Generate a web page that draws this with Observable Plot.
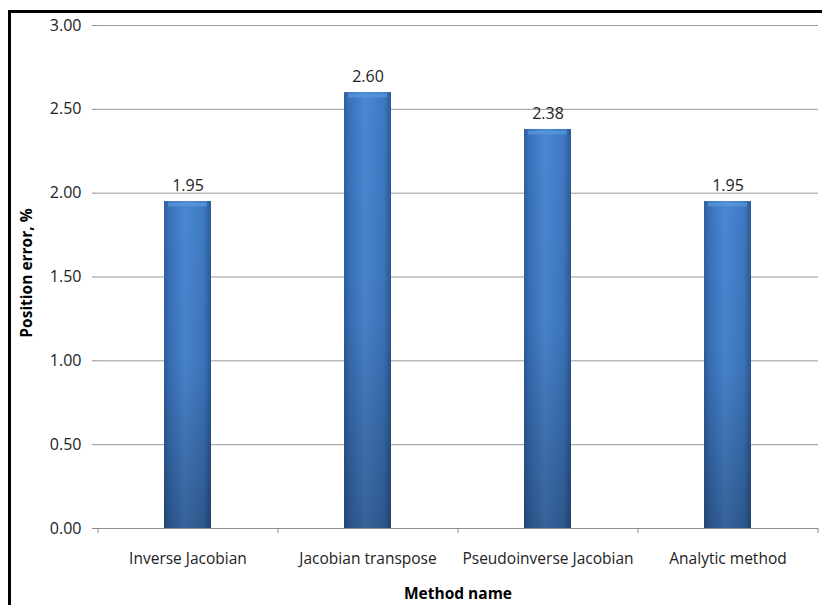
<!DOCTYPE html>
<html>
<head>
<meta charset="utf-8">
<script src="https://cdn.jsdelivr.net/npm/d3@7"></script>
<script src="https://cdn.jsdelivr.net/npm/@observablehq/plot@0.6"></script>
<style>
  html, body { margin: 0; padding: 0; background: #fff; }
  #wrap { position: relative; width: 822px; height: 605px; overflow: hidden; }
  #frame { position: absolute; left: 8px; top: 10px; width: 830px; height: 620px;
           border-left: 3px solid #000; border-top: 3px solid #000; pointer-events: none; }
</style>
</head>
<body>
<div id="wrap"><div id="frame"></div></div>
<script>
const methods = ["Inverse Jacobian", "Jacobian transpose", "Pseudoinverse Jacobian", "Analytic method"];
const errors = [1.95, 2.60, 2.38, 1.95];
const yTicks = [0, 0.5, 1.0, 1.5, 2.0, 2.5, 3.0];

const data = methods.map((m, i) => ({method: m, value: errors[i]}));
const font = "'Open Sans', Lato, sans-serif";

const chart = Plot.plot({
  width: 822,
  height: 605,
  marginLeft: 97,
  marginRight: 4,
  marginTop: 25,
  marginBottom: 77,
  style: {fontFamily: font, fontSize: "15.5px", color: "#222", background: "transparent"},
  x: {domain: methods, paddingInner: 0.74, paddingOuter: 0.37, label: null},
  y: {domain: [0, 3], label: null},
  marks: [
    Plot.gridY(yTicks, {stroke: "#9a9a9a", strokeOpacity: 1, strokeWidth: 1}),
    Plot.barY(data, {x: "method", y: "value", fill: "url(#barH)"}),
    Plot.barY(data, {x: "method", y: "value", fill: "url(#barV)"}),
    Plot.tickY(data, {x: "method", y: "value", dy: 3, stroke: "#5a98de", strokeOpacity: 0.7, strokeWidth: 4, insetLeft: 4, insetRight: 4}),
    Plot.ruleY([0], {stroke: "#8c8c8c"}),
    Plot.ruleX([0], {x: () => 0, stroke: "#8c8c8c"}),
    Plot.axisY(yTicks, {tickFormat: d3.format(".2f"), tickSize: 5, tickPadding: 11, stroke: "#8c8c8c", fill: "#222", fontSize: 16, label: null}),
    Plot.axisX({tickSize: 0, tickPadding: 24, fill: "#222", fontSize: 15.5, label: null}),
    Plot.ruleX(methods, {x: d => d, dx: -90, y1: 0, y2: 0, insetBottom: -5, stroke: "#8c8c8c"}),
    Plot.ruleX(methods.slice(-1), {x: d => d, dx: 90, y1: 0, y2: 0, insetBottom: -5, stroke: "#8c8c8c"}),
    Plot.text(data, {x: "method", y: "value", text: d => d3.format(".2f")(d.value), dy: -16, fill: "#222", fontSize: 16}),
    Plot.text(["Position error, %"], {frameAnchor: "left", textAnchor: "middle", dx: -70, dy: -4, rotate: -90, fontWeight: "bold", fontSize: 15.5, fill: "#000"}),
    Plot.text(["Method name"], {frameAnchor: "bottom", dy: 70, fontWeight: "bold", fontSize: 15.5, fill: "#000"})
  ]
});

// gradients for the bevelled bars
const svg = d3.select(chart);
const defs = svg.insert("defs", ":first-child");
const gh = defs.append("linearGradient").attr("id", "barH").attr("x1", 0).attr("x2", 1).attr("y1", 0).attr("y2", 0);
[[0, "#2f5f9e"], [0.12, "#3a72bb"], [0.45, "#4a88d3"], [0.85, "#3e78c2"], [1, "#2c5a95"]]
  .forEach(([o, c]) => gh.append("stop").attr("offset", o).attr("stop-color", c));
const gv = defs.append("linearGradient").attr("id", "barV").attr("x1", 0).attr("x2", 0).attr("y1", 0).attr("y2", 1);
[[0, "#000", 0], [0.5, "#000", 0.05], [1, "#000", 0.28]]
  .forEach(([o, c, a]) => gv.append("stop").attr("offset", o).attr("stop-color", c).attr("stop-opacity", a));

document.getElementById("wrap").insertBefore(chart, document.getElementById("frame"));
</script>
</body>
</html>
